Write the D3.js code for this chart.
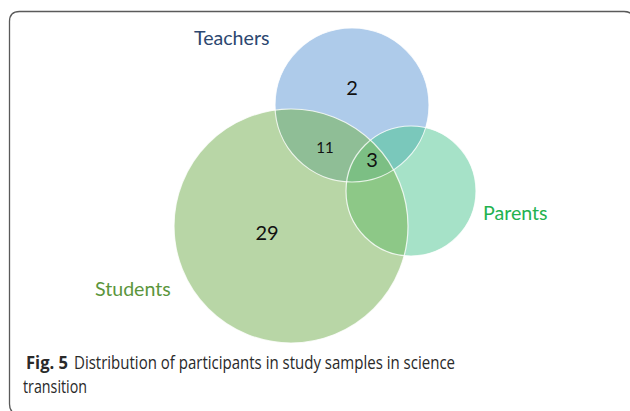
<!DOCTYPE html>
<html>
<head>
<meta charset="utf-8">
<script src="https://cdn.jsdelivr.net/npm/d3@7"></script>
<style>
  body { margin: 0; background: #fff; }
  svg { display: block; }
</style>
</head>
<body>
<div id="chart"></div>
<script>
const width = 630;
const height = 411;

// sets of the diagram
const sets = ["Teachers", "Students", "Parents"];
const setColors = ["#aecbea", "#b8d6a6", "#a6e2c8"];
const labelColors = ["#2c4770", "#5b963c", "#23b24f"];

// counts shown in the regions (key = sets involved)
const regionKeys = ["T", "TS", "TSP", "S"];
const regionCounts = [2, 11, 3, 29];

// overlap colours
const overlapKeys = ["TS", "TP", "SP", "TSP"];
const overlapColors = ["#8fbe96", "#7ac8bb", "#8dc887", "#7cbf84"];

const figLabel = "Fig. 5";
const caption = ["Distribution of participants in study samples in science", "transition"];

// layout of the circles (pixels)
const layout = {
  T: { cx: 352, cy: 105, r: 77 },
  S: { cx: 291, cy: 226, r: 117 },
  P: { cx: 411, cy: 191, r: 65 }
};
const setKey = { Teachers: "T", Students: "S", Parents: "P" };
const labelPos = {
  Teachers: [194, 45],
  Students: [95, 296],
  Parents: [483, 220]
};
const regionPos = {
  T: [352, 95, 20],
  TS: [325, 153, 15],
  TSP: [372, 167, 20],
  S: [267, 240, 20]
};

const svg = d3.select("#chart").append("svg")
  .attr("width", width)
  .attr("height", height);

// frame with rounded corners
const fx0 = 9.5, fy0 = 11.5, fx1 = 634, fy1 = 414, rr = 10;
svg.append("path")
  .attr("d", `M${fx1},${fy0 + rr} Q${fx1},${fy0} ${fx1 - rr},${fy0} L${fx0 + rr},${fy0} Q${fx0},${fy0} ${fx0},${fy0 + rr} L${fx0},${fy1 - rr} Q${fx0},${fy1} ${fx0 + rr},${fy1}`)
  .attr("fill", "none")
  .attr("stroke", "#5a5a5a")
  .attr("stroke-width", 1.3);

const defs = svg.append("defs");
["T", "S", "P"].forEach(k => {
  defs.append("clipPath").attr("id", "clip-" + k)
    .append("circle")
    .attr("cx", layout[k].cx).attr("cy", layout[k].cy).attr("r", layout[k].r);
});

const circles = svg.append("g");

// base circles
circles.selectAll("circle.set")
  .data(sets)
  .join("circle")
  .attr("class", "set")
  .attr("cx", d => layout[setKey[d]].cx)
  .attr("cy", d => layout[setKey[d]].cy)
  .attr("r", d => layout[setKey[d]].r)
  .attr("fill", (d, i) => setColors[i]);

// overlaps, nested clips
overlapKeys.forEach((key, i) => {
  const parts = key.split("");
  let g = circles.append("g").attr("clip-path", `url(#clip-${parts[0]})`);
  for (let j = 1; j < parts.length - 1; j++) {
    g = g.append("g").attr("clip-path", `url(#clip-${parts[j]})`);
  }
  const last = layout[parts[parts.length - 1]];
  g.append("circle")
    .attr("cx", last.cx).attr("cy", last.cy).attr("r", last.r)
    .attr("fill", overlapColors[i]);
});

// white outlines
circles.selectAll("circle.outline")
  .data(sets)
  .join("circle")
  .attr("class", "outline")
  .attr("cx", d => layout[setKey[d]].cx)
  .attr("cy", d => layout[setKey[d]].cy)
  .attr("r", d => layout[setKey[d]].r)
  .attr("fill", "none")
  .attr("stroke", "#ffffff")
  .attr("stroke-opacity", 0.8)
  .attr("stroke-width", 1.2);

// set names
svg.selectAll("text.setname")
  .data(sets)
  .join("text")
  .attr("class", "setname")
  .attr("x", d => labelPos[d][0])
  .attr("y", d => labelPos[d][1])
  .attr("fill", (d, i) => labelColors[i])
  .style("font-family", "Lato, 'Open Sans', sans-serif")
  .style("font-size", "19.6px")
  .text(d => d);

// region counts
svg.selectAll("text.count")
  .data(regionKeys)
  .join("text")
  .attr("class", "count")
  .attr("x", d => regionPos[d][0])
  .attr("y", d => regionPos[d][1])
  .attr("text-anchor", "middle")
  .attr("fill", "#111")
  .style("font-family", "Lato, 'Open Sans', sans-serif")
  .style("font-size", d => regionPos[d][2] + "px")
  .text((d, i) => regionCounts[i]);

// caption
const capStyle = sel => sel
  .attr("fill", "#2a2a2a")
  .attr("lengthAdjust", "spacingAndGlyphs")
  .style("font-family", "'Open Sans', sans-serif")
  .style("font-size", "18px");

svg.append("text")
  .attr("x", 26).attr("y", 369)
  .attr("textLength", 42)
  .attr("font-weight", "bold")
  .call(capStyle)
  .text(figLabel);
svg.append("text")
  .attr("x", 74).attr("y", 369)
  .attr("textLength", 381)
  .call(capStyle)
  .text(caption[0]);
svg.append("text")
  .attr("x", 23).attr("y", 393)
  .attr("textLength", 64)
  .call(capStyle)
  .text(caption[1]);
</script>
</body>
</html>
